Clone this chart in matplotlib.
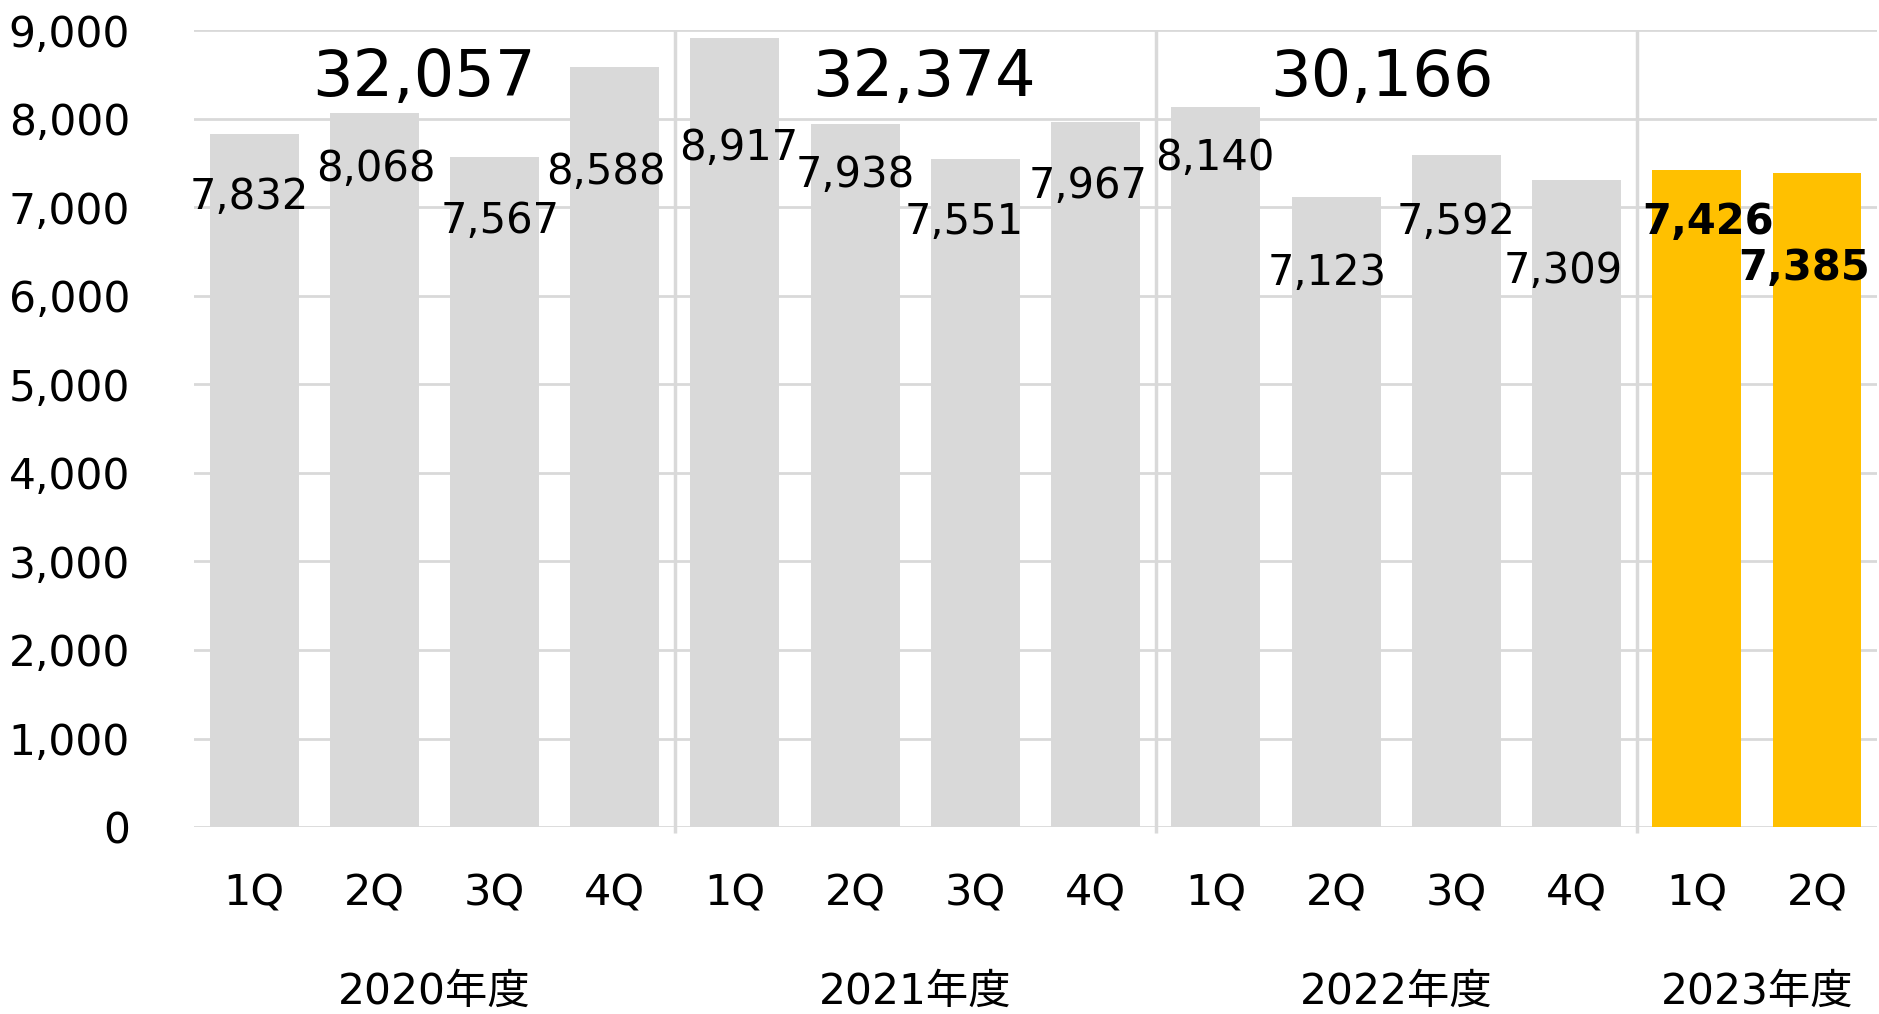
import matplotlib.pyplot as plt

plt.rcParams['font.family'] = ['DejaVu Sans', 'Noto Sans CJK JP']

# quarterly values
quarters = ['1Q', '2Q', '3Q', '4Q', '1Q', '2Q', '3Q', '4Q',
            '1Q', '2Q', '3Q', '4Q', '1Q', '2Q']
values = [7832, 8068, 7567, 8588, 8917, 7938, 7551, 7967,
          8140, 7123, 7592, 7309, 7426, 7385]
years = ['2020年度', '2021年度', '2022年度', '2023年度']
year_sizes = [4, 4, 4, 2]
year_totals = ['32,057', '32,374', '30,166', '']

# label placement (pixel offsets from the bar top, as in the source slide)
label_dx = [-5, 2, 6, -9, 4, 0, -11, -8, -1, -9, 0, -13, 11, -13]
label_dy = [-63, -56, -64, -105, -110, -51, -63, -64, -51, -76, -67, -91, -52, -95]
total_dx = [-0.09, 0.07, -0.12, 0]

gray = '#d9d9d9'
gold = '#ffc000'
colors = [gray] * 12 + [gold] * 2

fig = plt.figure(figsize=(18.79, 10.14), dpi=100)
ax = fig.add_axes([0.1032, 0.1844, 0.8958, 0.7856])

x = list(range(len(values)))
ax.bar(x, values, width=0.74, color=colors, zorder=2)

ax.set_xlim(-0.5, len(values) - 0.5)
ax.set_ylim(0, 9000)
ax.set_yticks(range(0, 9001, 1000))
ax.set_yticklabels([f'{v:,}' for v in range(0, 9001, 1000)])
ax.yaxis.grid(True, color=gray, linewidth=2)
ax.set_axisbelow(True)
for s in ax.spines.values():
    s.set_visible(False)
ax.tick_params(axis='y', length=0, pad=46, labelsize=30.5)
ax.tick_params(axis='x', length=0, pad=33, labelsize=31)
ax.set_xticks(x)
ax.set_xticklabels(quarters)

# data labels
for i, v in enumerate(values):
    bold = i >= 12
    ax.annotate(f'{v:,}', (i, v), xytext=(label_dx[i], label_dy[i]),
                textcoords='offset pixels', ha='center', va='center',
                fontsize=30, fontweight='bold' if bold else 'normal',
                color='black', zorder=3)

# year separators, year names and totals
start = 0
for k, (yr, n) in enumerate(zip(years, year_sizes)):
    center = start + (n - 1) / 2
    ax.text(center, -0.207, yr, transform=ax.get_xaxis_transform(),
            ha='center', va='center', fontsize=30.5)
    if year_totals[k]:
        ax.text(center + total_dx[k], 8460, year_totals[k], ha='center',
                va='center', fontsize=46)
    start += n
    if start < len(values):
        ax.vlines(start - 0.5, -70, 9000, color=gray, linewidth=2.5,
                  clip_on=False, zorder=1)

fig.savefig('out.png', dpi=100)
